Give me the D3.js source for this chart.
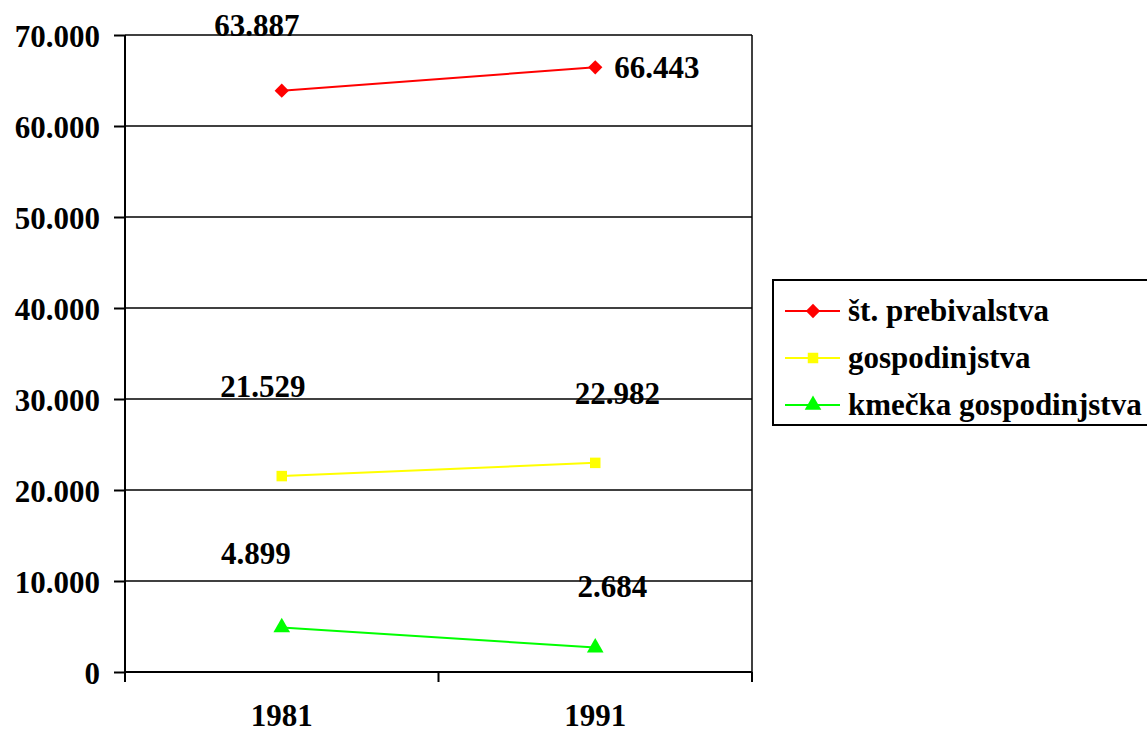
<!DOCTYPE html>
<html>
<head>
<meta charset="utf-8">
<script src="https://cdn.jsdelivr.net/npm/d3@7"></script>
<style>
  html, body { margin: 0; padding: 0; background: #fff; }
  svg { display: block; }
  svg text { font-family: "Times New Roman", "Liberation Serif", Tinos, serif; font-weight: bold; }
</style>
</head>
<body>
<div id="chart"></div>
<script>
const years = ["1981", "1991"];
const seriesNames = ["št. prebivalstva", "gospodinjstva", "kmečka gospodinjstva"];
const prebivalstvo = [63887, 66443];
const gospodinjstva = [21529, 22982];
const kmecka = [4899, 2684];
const yTicks = [0, 10000, 20000, 30000, 40000, 50000, 60000, 70000];

const colors = ["#ff0000", "#ffff00", "#00ff00"];
const symbols = [d3.symbolDiamond2, d3.symbolSquare, d3.symbolTriangle];
const symbolSizes = [130, 110, 120];
const FS = "31px";

// label offsets from their point, per series / per year (Excel placed them oddly)
const labelOffsets = [
  [{ dx: -25, dy: -55, anchor: "middle" }, { dx: 19, dy: 11, anchor: "start" }],
  [{ dx: -19, dy: -79, anchor: "middle" }, { dx: 22, dy: -59, anchor: "middle" }],
  [{ dx: -26, dy: -63, anchor: "middle" }, { dx: 17, dy: -51, anchor: "middle" }]
];

const width = 1147, height = 733;
const margin = { top: 35, right: 395, bottom: 61, left: 125 };

const svg = d3.select("#chart").append("svg")
  .attr("width", width)
  .attr("height", height);

const x = d3.scalePoint()
  .domain(years)
  .range([margin.left, width - margin.right])
  .padding(0.5);

const y = d3.scaleLinear()
  .domain([0, 70000])
  .range([height - margin.bottom, margin.top]);

const sl = v => d3.format(",")(v).replace(/,/g, ".");

const x0 = margin.left, x1 = width - margin.right, y0 = y(0);

function styleText(sel) {
  sel.attr("font-family", "Times New Roman")
    .attr("font-weight", "bold")
    .attr("font-size", FS)
    .attr("fill", "#000");
}

// series labels drawn first so the gridlines run over them as in the original
const allSeries = [prebivalstvo, gospodinjstva, kmecka];
const labelLayer = svg.append("g");
allSeries.forEach((vals, s) => {
  labelLayer.append("g").selectAll("text")
    .data(vals)
    .join("text")
    .attr("x", (d, i) => x(years[i]) + labelOffsets[s][i].dx)
    .attr("y", (d, i) => y(d) + labelOffsets[s][i].dy)
    .attr("text-anchor", (d, i) => labelOffsets[s][i].anchor)
    .call(styleText)
    .text(d => sl(d));
});

// gridlines
svg.append("g")
  .selectAll("line")
  .data(yTicks.filter(d => d > 0))
  .join("line")
  .attr("x1", x0).attr("x2", x1)
  .attr("y1", d => y(d)).attr("y2", d => y(d))
  .attr("stroke", "#000").attr("stroke-width", 1.5);

// right border of plot
svg.append("line")
  .attr("x1", x1).attr("x2", x1)
  .attr("y1", y(70000)).attr("y2", y0)
  .attr("stroke", "#000").attr("stroke-width", 1.5);

// y axis
const gy = svg.append("g")
  .attr("transform", `translate(${x0},0)`)
  .call(d3.axisLeft(y)
    .tickValues(yTicks)
    .tickSize(11)
    .tickPadding(14)
    .tickFormat(d => d === 0 ? "0" : sl(d)));
gy.attr("font-family", null).attr("font-size", null);
gy.select(".domain").remove();
gy.selectAll(".tick line").attr("stroke", "#000").attr("stroke-width", 2);
gy.selectAll(".tick text")
  .attr("dy", "0.37em")
  .call(styleText);
gy.append("line")
  .attr("x1", 0).attr("x2", 0)
  .attr("y1", y(70000)).attr("y2", y0 + 10)
  .attr("stroke", "#000").attr("stroke-width", 2);

// x axis
const step = x.step();
const xBounds = [x(years[0]) - step / 2].concat(years.map(d => x(d) + step / 2));
const gx = svg.append("g");
gx.append("line")
  .attr("x1", x0).attr("x2", x1)
  .attr("y1", y0).attr("y2", y0)
  .attr("stroke", "#000").attr("stroke-width", 2);
gx.selectAll("line.tk")
  .data(xBounds)
  .join("line")
  .attr("class", "tk")
  .attr("x1", d => d).attr("x2", d => d)
  .attr("y1", y0).attr("y2", y0 + 10)
  .attr("stroke", "#000").attr("stroke-width", 2);
gx.selectAll("text")
  .data(years)
  .join("text")
  .attr("x", d => x(d))
  .attr("y", y0 + 54)
  .attr("text-anchor", "middle")
  .call(styleText)
  .text(d => d);

// series lines and markers
const line = d3.line()
  .x((d, i) => x(years[i]))
  .y(d => y(d));

allSeries.forEach((vals, s) => {
  const g = svg.append("g");
  g.append("path")
    .datum(vals)
    .attr("d", line)
    .attr("fill", "none")
    .attr("stroke", colors[s])
    .attr("stroke-width", 2);
  g.selectAll("path.m")
    .data(vals)
    .join("path")
    .attr("class", "m")
    .attr("transform", (d, i) => `translate(${x(years[i])},${y(d)})`)
    .attr("d", d3.symbol(symbols[s], symbolSizes[s]))
    .attr("fill", colors[s]);
});

// legend
const legend = svg.append("g").attr("transform", "translate(773,280)");
legend.append("rect")
  .attr("x", 0).attr("y", 0)
  .attr("width", 390).attr("height", 145)
  .attr("fill", "#fff")
  .attr("stroke", "#000").attr("stroke-width", 2);
const rows = legend.selectAll("g.row")
  .data(seriesNames)
  .join("g")
  .attr("class", "row")
  .attr("transform", (d, i) => `translate(0,${31 + i * 47})`);
rows.append("line")
  .attr("x1", 12).attr("x2", 67)
  .attr("stroke", (d, i) => colors[i]).attr("stroke-width", 2);
rows.append("path")
  .attr("transform", "translate(40,0)")
  .attr("d", (d, i) => d3.symbol(symbols[i], symbolSizes[i])())
  .attr("fill", (d, i) => colors[i]);
rows.append("text")
  .attr("x", 75)
  .attr("dy", "0.33em")
  .call(styleText)
  .text(d => d);
</script>
</body>
</html>
